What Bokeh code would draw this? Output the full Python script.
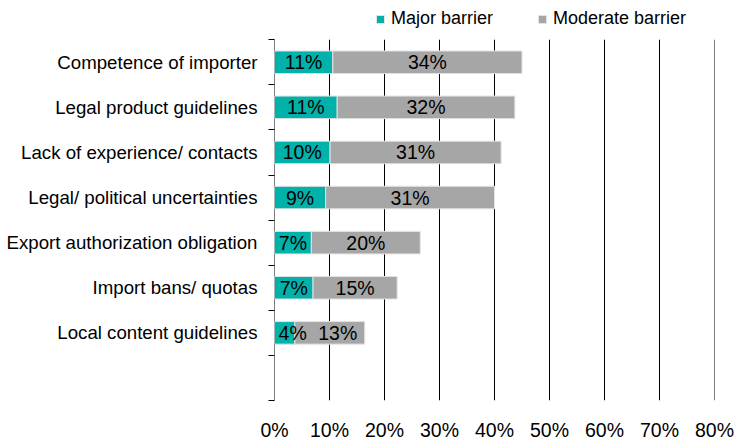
from bokeh.plotting import figure
from bokeh.models import (ColumnDataSource, Range1d, FixedTicker, PrintfTickFormatter,
                          Legend, LegendItem)
from bokeh.core.properties import value
from bokeh.embed import file_html
from bokeh.resources import INLINE

categories = [
    "Competence of importer",
    "Legal product guidelines",
    "Lack of experience/ contacts",
    "Legal/ political uncertainties",
    "Export authorization obligation",
    "Import bans/ quotas",
    "Local content guidelines",
]
major = [10.6, 11.4, 10.1, 9.3, 6.7, 7.0, 3.7]
moderate = [34.4, 32.3, 31.1, 30.7, 19.8, 15.3, 12.7]
x_ticks = [0, 10, 20, 30, 40, 50, 60, 70, 80]
series_names = ["Major barrier", "Moderate barrier"]
colors = ["#00B2A9", "#A6A6A6"]

# label nudges (pixels) where a segment is too narrow for its label
label_nudge_px = [0, 0, 0, 0, 0, 0, 8]

FONT = "Liberation Sans"
FS_CAT = "14pt"
FS_LBL = "19.5px"
FS_LEG = "18px"

n_slots = len(categories) + 1
SLOT_PX = 46.0
TOP_PX = 40.0
ypos = [i + 0.5 for i in range(len(categories))]
total = [a + b for a, b in zip(major, moderate)]

src = ColumnDataSource(dict(
    y=ypos,
    major=major,
    total=total,
    major_mid=[m / 2 for m in major],
    mod_mid=[m + d / 2 for m, d in zip(major, moderate)],
    major_lbl=["%d%%" % round(v) for v in major],
    mod_lbl=["%d%%" % round(v) for v in moderate],
    nudge=label_nudge_px,
))

p = figure(width=735, height=443, output_backend="svg", toolbar_location=None,
           x_range=Range1d(0, 80), y_range=Range1d(n_slots, -TOP_PX / SLOT_PX),
           min_border_left=274, min_border_right=21, min_border_top=0, min_border_bottom=35)
p.outline_line_color = None
p.background_fill_color = "white"
p.border_fill_color = "white"

# grid lines drawn only over the category area
p.segment(x0=x_ticks, x1=x_ticks, y0=[0] * len(x_ticks), y1=[n_slots] * len(x_ticks),
          line_color="black", line_width=1)

r1 = p.hbar(y="y", left=0, right="major", height=0.5, source=src,
            fill_color=colors[0], line_color="#E3E3E3", line_width=1)
r2 = p.hbar(y="y", left="major", right="total", height=0.5, source=src,
            fill_color=colors[1], line_color="#E3E3E3", line_width=1)

p.text(x="major_mid", y="y", text="major_lbl", source=src, x_offset="nudge",
       text_align="center", text_baseline="middle", text_font=value(FONT),
       text_font_size=FS_LBL, text_color="black")
p.text(x="mod_mid", y="y", text="mod_lbl", source=src, x_offset="nudge",
       text_align="center", text_baseline="middle", text_font=value(FONT),
       text_font_size=FS_LBL, text_color="black")

# x axis
xa = p.xaxis[0]
xa.ticker = FixedTicker(ticks=x_ticks)
xa.formatter = PrintfTickFormatter(format="%d%%")
xa.axis_line_color = None
xa.major_tick_line_color = None
xa.minor_tick_line_color = None
xa.major_label_text_font = FONT
xa.major_label_text_font_size = FS_LBL
xa.major_label_text_color = "black"
xa.major_tick_out = 0
xa.major_tick_in = 0
xa.major_label_standoff = 18

# y axis
ya = p.yaxis[0]
label_ticks = [i + 0.5 for i in range(n_slots)]
ya.ticker = FixedTicker(ticks=label_ticks, minor_ticks=list(range(n_slots + 1)))
ya.major_label_overrides = {t: (categories[i] if i < len(categories) else "")
                            for i, t in enumerate(label_ticks)}
ya.major_tick_line_color = None
ya.major_tick_out = 0
ya.major_tick_in = 0
ya.minor_tick_line_color = "black"
ya.minor_tick_out = 6
ya.minor_tick_in = 0
ya.axis_line_color = None
ya.major_label_text_font = FONT
ya.major_label_text_font_size = FS_CAT
ya.major_label_text_color = "black"
ya.major_label_standoff = 11

p.grid.grid_line_color = None

legend = Legend(items=[LegendItem(label=series_names[0], renderers=[r1]),
                       LegendItem(label=series_names[1], renderers=[r2])],
                orientation="horizontal", location=(101, 408 - 37),
                glyph_width=10, glyph_height=10, label_standoff=6, spacing=44,
                padding=0, margin=0, border_line_color=None, background_fill_alpha=0,
                label_text_font=FONT, label_text_font_size=FS_LEG, label_text_color="black",
                label_height=20)
p.add_layout(legend, "center")

open("out.html", "w").write(file_html(p, INLINE))
